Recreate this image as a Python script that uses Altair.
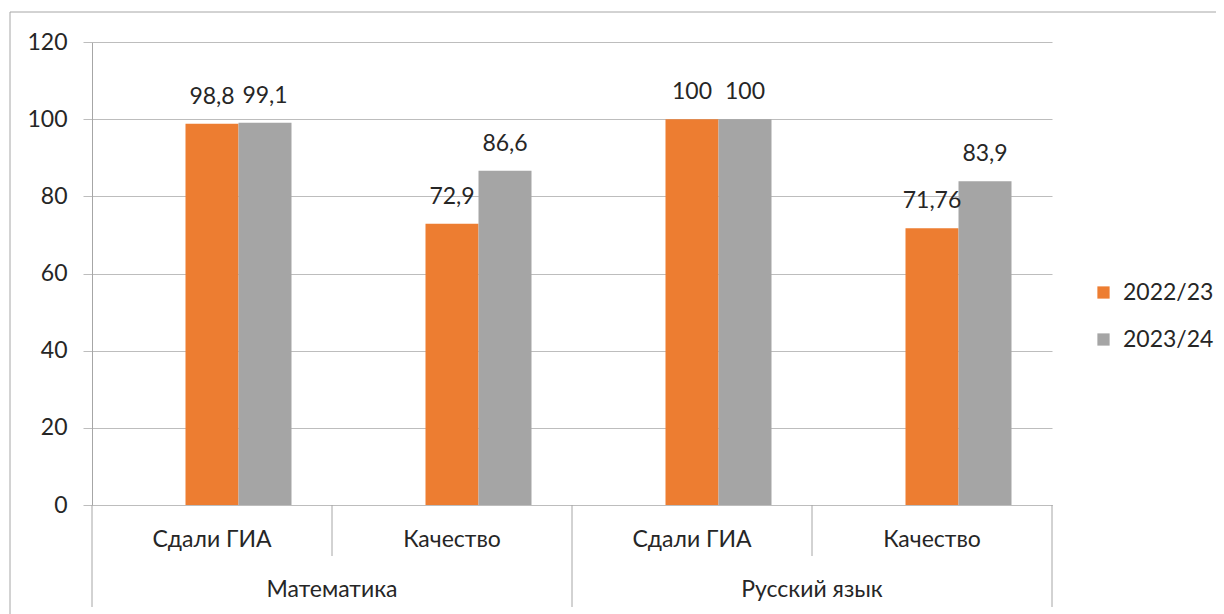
import altair as alt
import pandas as pd

subjects = ["Математика", "Математика", "Русский язык", "Русский язык"]
measures = ["Сдали ГИА", "Качество", "Сдали ГИА", "Качество"]
years = ["2022/23", "2023/24"]
values_2022 = [98.8, 72.9, 100, 71.76]
values_2023 = [99.1, 86.6, 100, 83.9]
colors = ["#ED7D31", "#A5A5A5"]

slots = [f"{s}|{m}" for s, m in zip(subjects, measures)]
rows = []
for slot, s, m, a, b in zip(slots, subjects, measures, values_2022, values_2023):
    rows.append(dict(slot=slot, subject=s, measure=m, year=years[0], value=a))
    rows.append(dict(slot=slot, subject=s, measure=m, year=years[1], value=b))
df = pd.DataFrame(rows)
slot_df = pd.DataFrame(dict(slot=slots, subject=subjects, measure=measures))

W, H = 960, 463
GRID = "#BDBDBD"
LINE = "#A6A6A6"
TEXT = "#262626"
FONT = "Lato"
FS = 23

xscale = alt.Scale(domain=slots, paddingInner=0, paddingOuter=0)
yscale = alt.Scale(domain=[0, 120])
# a leading empty slot pushes the bar pair right of centre, as in the reference
offscale = alt.Scale(domain=["_"] + years, paddingInner=0, paddingOuter=0.764, align=0.5)

xaxis = alt.Axis(labelExpr="split(datum.label, '|')[1]", ticks=False,
                 tickSize=0, labelPadding=23, labelFontSize=FS,
                 labelColor=TEXT, labelFont=FONT, domainColor=GRID,
                 labelAngle=0, grid=False, title=None)
yaxis = alt.Axis(values=[0, 20, 40, 60, 80, 100, 120], tickSize=9,
                 labelPadding=16, labelFontSize=FS, labelColor=TEXT,
                 labelFont=FONT, gridColor=GRID, tickColor=GRID,
                 domainColor=LINE, grid=True, title=None)


def X(**kw):
    return alt.X("slot:N", scale=xscale, sort=slots, axis=xaxis, title=None, **kw)


base = alt.Chart(df)

bars = base.mark_bar().encode(
    x=X(),
    xOffset=alt.XOffset("year:N", scale=offscale),
    y=alt.Y("value:Q", scale=yscale, title=None, axis=yaxis),
    color=alt.Color("year:N", sort=years, scale=alt.Scale(domain=years, range=colors),
                    title=None,
                    legend=alt.Legend(orient="none", legendX=1000, legendY=239,
                                      symbolType="square", symbolSize=150,
                                      symbolStrokeWidth=0, labelFontSize=FS,
                                      labelFont=FONT, labelColor=TEXT,
                                      labelOffset=8, rowPadding=23)),
)

labels = base.transform_calculate(
    label="replace(toString(datum.value), '.', ',')"
).mark_text(fontSize=FS, font=FONT, color=TEXT, baseline="alphabetic", dy=-20).encode(
    x=X(),
    xOffset=alt.XOffset("year:N", scale=offscale),
    y=alt.Y("value:Q", scale=yscale, title=None, axis=yaxis),
    text="label:N",
)

sbase = alt.Chart(slot_df)

subject_labels = sbase.transform_filter(
    alt.datum.measure == "Сдали ГИА"
).mark_text(fontSize=FS, font=FONT, color=TEXT, baseline="middle").encode(
    x=X(bandPosition=1),
    y=alt.value(H + 85),
    text="subject:N",
)

short_sep = sbase.transform_filter(
    alt.datum.measure == "Качество"
).mark_rule(color=LINE, strokeWidth=1).encode(
    x=X(bandPosition=0),
    y=alt.value(H),
    y2=alt.value(H + 51),
)

long_sep = sbase.transform_filter(
    alt.datum.measure == "Сдали ГИА"
).mark_rule(color=LINE, strokeWidth=1).encode(
    x=X(bandPosition=0),
    y=alt.value(H),
    y2=alt.value(H + 102),
)

end_sep = sbase.transform_filter(
    alt.datum.slot == slots[-1]
).mark_rule(color=LINE, strokeWidth=1).encode(
    x=X(bandPosition=1),
    y=alt.value(H),
    y2=alt.value(H + 102),
)

frame = sbase.transform_filter(
    alt.datum.slot == slots[0]
).mark_rect(filled=False, stroke=LINE, strokeWidth=1).encode(
    x=alt.value(-82), x2=alt.value(1160), y=alt.value(-30), y2=alt.value(620),
)

chart = alt.layer(
    frame, bars, labels, short_sep, long_sep, end_sep, subject_labels
).properties(
    width=W, height=H, autosize="none",
    padding={"left": 84, "top": 34, "right": 164, "bottom": 110},
).configure(font=FONT, view=alt.ViewConfig(stroke=None))

chart.save("out.html", embed_options={"renderer": "svg", "actions": False})
